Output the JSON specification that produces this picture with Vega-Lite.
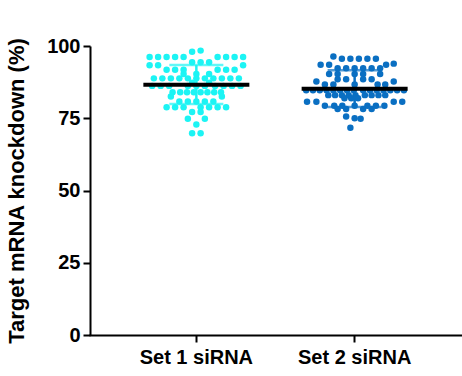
{
  "$schema": "https://vega.github.io/schema/vega-lite/v6.json",
  "width": 371,
  "height": 289,
  "autosize": {"type": "none"},
  "padding": {"left": 90, "top": 46, "right": 1, "bottom": 41},
  "background": "white",
  "config": {
    "view": {"stroke": null},
    "axis": {
      "grid": false,
      "domainColor": "black",
      "domainWidth": 2,
      "tickColor": "black",
      "tickWidth": 2,
      "tickSize": 7,
      "labelFont": "Liberation Sans",
      "labelFontWeight": "bold",
      "labelFontSize": 20,
      "labelColor": "black",
      "titleFont": "Liberation Sans",
      "titleFontWeight": "bold",
      "titleFontSize": 22,
      "titleColor": "black"
    }
  },
  "datasets": {
    "points": [
      {"group": "Set 1 siRNA", "value": 98.4, "slot": 0.5},
      {"group": "Set 1 siRNA", "value": 98.0, "slot": -0.5},
      {"group": "Set 1 siRNA", "value": 96.2, "slot": -5.5},
      {"group": "Set 1 siRNA", "value": 96.2, "slot": -4.5},
      {"group": "Set 1 siRNA", "value": 96.2, "slot": -3.5},
      {"group": "Set 1 siRNA", "value": 96.2, "slot": -2.5},
      {"group": "Set 1 siRNA", "value": 96.2, "slot": -1.5},
      {"group": "Set 1 siRNA", "value": 96.2, "slot": 2.5},
      {"group": "Set 1 siRNA", "value": 96.2, "slot": 3.5},
      {"group": "Set 1 siRNA", "value": 96.2, "slot": 4.5},
      {"group": "Set 1 siRNA", "value": 96.2, "slot": 5.5},
      {"group": "Set 1 siRNA", "value": 94.4, "slot": -0.5},
      {"group": "Set 1 siRNA", "value": 94.4, "slot": 0.5},
      {"group": "Set 1 siRNA", "value": 94.4, "slot": 1.5},
      {"group": "Set 1 siRNA", "value": 93.3, "slot": -5.5},
      {"group": "Set 1 siRNA", "value": 93.3, "slot": -4.5},
      {"group": "Set 1 siRNA", "value": 93.3, "slot": 5.5},
      {"group": "Set 1 siRNA", "value": 91.8, "slot": -3.5},
      {"group": "Set 1 siRNA", "value": 91.8, "slot": -2.5},
      {"group": "Set 1 siRNA", "value": 91.8, "slot": -1.5},
      {"group": "Set 1 siRNA", "value": 91.8, "slot": 2.5},
      {"group": "Set 1 siRNA", "value": 91.8, "slot": 3.5},
      {"group": "Set 1 siRNA", "value": 91.8, "slot": 4.5},
      {"group": "Set 1 siRNA", "value": 90.3, "slot": -1.5},
      {"group": "Set 1 siRNA", "value": 90.3, "slot": 0},
      {"group": "Set 1 siRNA", "value": 90.3, "slot": 1.5},
      {"group": "Set 1 siRNA", "value": 88.8, "slot": -5},
      {"group": "Set 1 siRNA", "value": 88.8, "slot": -4},
      {"group": "Set 1 siRNA", "value": 88.8, "slot": -3},
      {"group": "Set 1 siRNA", "value": 88.8, "slot": -2},
      {"group": "Set 1 siRNA", "value": 88.8, "slot": -1},
      {"group": "Set 1 siRNA", "value": 88.8, "slot": 0},
      {"group": "Set 1 siRNA", "value": 88.8, "slot": 1},
      {"group": "Set 1 siRNA", "value": 88.8, "slot": 2},
      {"group": "Set 1 siRNA", "value": 88.8, "slot": 3},
      {"group": "Set 1 siRNA", "value": 88.8, "slot": 4},
      {"group": "Set 1 siRNA", "value": 88.8, "slot": 5},
      {"group": "Set 1 siRNA", "value": 87.3, "slot": -0.5},
      {"group": "Set 1 siRNA", "value": 87.3, "slot": 1.5},
      {"group": "Set 1 siRNA", "value": 86.2, "slot": -5.2},
      {"group": "Set 1 siRNA", "value": 86.2, "slot": -4.2},
      {"group": "Set 1 siRNA", "value": 86.2, "slot": -3.2},
      {"group": "Set 1 siRNA", "value": 86.2, "slot": -1},
      {"group": "Set 1 siRNA", "value": 86.2, "slot": 0},
      {"group": "Set 1 siRNA", "value": 86.2, "slot": 1},
      {"group": "Set 1 siRNA", "value": 86.2, "slot": 2.2},
      {"group": "Set 1 siRNA", "value": 86.2, "slot": 3.2},
      {"group": "Set 1 siRNA", "value": 86.2, "slot": 4.2},
      {"group": "Set 1 siRNA", "value": 86.2, "slot": 5.2},
      {"group": "Set 1 siRNA", "value": 84.0, "slot": -2.8},
      {"group": "Set 1 siRNA", "value": 84.0, "slot": -1.9},
      {"group": "Set 1 siRNA", "value": 84.0, "slot": -1.1},
      {"group": "Set 1 siRNA", "value": 84.0, "slot": -0.3},
      {"group": "Set 1 siRNA", "value": 84.0, "slot": 0.5},
      {"group": "Set 1 siRNA", "value": 84.0, "slot": 1.3},
      {"group": "Set 1 siRNA", "value": 84.0, "slot": 2.1},
      {"group": "Set 1 siRNA", "value": 84.0, "slot": 2.9},
      {"group": "Set 1 siRNA", "value": 82.5, "slot": -3},
      {"group": "Set 1 siRNA", "value": 82.5, "slot": 3},
      {"group": "Set 1 siRNA", "value": 80.8, "slot": -2},
      {"group": "Set 1 siRNA", "value": 80.8, "slot": -1},
      {"group": "Set 1 siRNA", "value": 80.8, "slot": 0},
      {"group": "Set 1 siRNA", "value": 80.8, "slot": 1},
      {"group": "Set 1 siRNA", "value": 80.8, "slot": 2},
      {"group": "Set 1 siRNA", "value": 78.8, "slot": -3.5},
      {"group": "Set 1 siRNA", "value": 78.8, "slot": -2.5},
      {"group": "Set 1 siRNA", "value": 78.8, "slot": -1.5},
      {"group": "Set 1 siRNA", "value": 78.8, "slot": 0.5},
      {"group": "Set 1 siRNA", "value": 78.8, "slot": 1.5},
      {"group": "Set 1 siRNA", "value": 78.8, "slot": 2.5},
      {"group": "Set 1 siRNA", "value": 78.8, "slot": 3.5},
      {"group": "Set 1 siRNA", "value": 77.2, "slot": -0.5},
      {"group": "Set 1 siRNA", "value": 77.2, "slot": 0.5},
      {"group": "Set 1 siRNA", "value": 74.8, "slot": -1},
      {"group": "Set 1 siRNA", "value": 74.8, "slot": 1},
      {"group": "Set 1 siRNA", "value": 72.8, "slot": 0},
      {"group": "Set 1 siRNA", "value": 69.8, "slot": -0.5},
      {"group": "Set 1 siRNA", "value": 69.8, "slot": 0.5},

      {"group": "Set 2 siRNA", "value": 96.4, "slot": -2.5},
      {"group": "Set 2 siRNA", "value": 95.6, "slot": -1.5},
      {"group": "Set 2 siRNA", "value": 95.6, "slot": -0.5},
      {"group": "Set 2 siRNA", "value": 95.6, "slot": 0.5},
      {"group": "Set 2 siRNA", "value": 95.6, "slot": 1.5},
      {"group": "Set 2 siRNA", "value": 95.6, "slot": 2.5},
      {"group": "Set 2 siRNA", "value": 93.5, "slot": -4},
      {"group": "Set 2 siRNA", "value": 93.5, "slot": -3},
      {"group": "Set 2 siRNA", "value": 93.5, "slot": 3.7},
      {"group": "Set 2 siRNA", "value": 93.9, "slot": 4.6},
      {"group": "Set 2 siRNA", "value": 92.3, "slot": -2},
      {"group": "Set 2 siRNA", "value": 92.3, "slot": -1},
      {"group": "Set 2 siRNA", "value": 92.3, "slot": 0},
      {"group": "Set 2 siRNA", "value": 92.3, "slot": 1},
      {"group": "Set 2 siRNA", "value": 92.3, "slot": 2},
      {"group": "Set 2 siRNA", "value": 92.3, "slot": 3},
      {"group": "Set 2 siRNA", "value": 90.3, "slot": -3},
      {"group": "Set 2 siRNA", "value": 90.3, "slot": -2},
      {"group": "Set 2 siRNA", "value": 90.3, "slot": 0},
      {"group": "Set 2 siRNA", "value": 90.3, "slot": 1},
      {"group": "Set 2 siRNA", "value": 90.3, "slot": 3},
      {"group": "Set 2 siRNA", "value": 88.5, "slot": -2},
      {"group": "Set 2 siRNA", "value": 88.5, "slot": -1},
      {"group": "Set 2 siRNA", "value": 88.5, "slot": 1},
      {"group": "Set 2 siRNA", "value": 88.5, "slot": 2},
      {"group": "Set 2 siRNA", "value": 87.7, "slot": -4.5},
      {"group": "Set 2 siRNA", "value": 87.7, "slot": 4.6},
      {"group": "Set 2 siRNA", "value": 86.7, "slot": -3.5},
      {"group": "Set 2 siRNA", "value": 86.7, "slot": -2.5},
      {"group": "Set 2 siRNA", "value": 86.7, "slot": 0},
      {"group": "Set 2 siRNA", "value": 86.7, "slot": 2.7},
      {"group": "Set 2 siRNA", "value": 86.7, "slot": 3.6},
      {"group": "Set 2 siRNA", "value": 84.7, "slot": -5.7},
      {"group": "Set 2 siRNA", "value": 84.7, "slot": -4.9},
      {"group": "Set 2 siRNA", "value": 84.7, "slot": -4.1},
      {"group": "Set 2 siRNA", "value": 84.7, "slot": -3.3},
      {"group": "Set 2 siRNA", "value": 84.7, "slot": -2.5},
      {"group": "Set 2 siRNA", "value": 84.7, "slot": -1.7},
      {"group": "Set 2 siRNA", "value": 84.7, "slot": -0.9},
      {"group": "Set 2 siRNA", "value": 84.7, "slot": -0.1},
      {"group": "Set 2 siRNA", "value": 84.7, "slot": 1},
      {"group": "Set 2 siRNA", "value": 84.7, "slot": 1.8},
      {"group": "Set 2 siRNA", "value": 84.7, "slot": 2.6},
      {"group": "Set 2 siRNA", "value": 84.7, "slot": 3.4},
      {"group": "Set 2 siRNA", "value": 84.7, "slot": 4.2},
      {"group": "Set 2 siRNA", "value": 84.7, "slot": 5},
      {"group": "Set 2 siRNA", "value": 84.7, "slot": 5.8},
      {"group": "Set 2 siRNA", "value": 83.0, "slot": -3.1},
      {"group": "Set 2 siRNA", "value": 83.0, "slot": -2.3},
      {"group": "Set 2 siRNA", "value": 83.0, "slot": -1.5},
      {"group": "Set 2 siRNA", "value": 83.0, "slot": -0.7},
      {"group": "Set 2 siRNA", "value": 83.0, "slot": 0.1},
      {"group": "Set 2 siRNA", "value": 83.0, "slot": 1.2},
      {"group": "Set 2 siRNA", "value": 83.0, "slot": 2},
      {"group": "Set 2 siRNA", "value": 83.0, "slot": 2.8},
      {"group": "Set 2 siRNA", "value": 83.0, "slot": 3.6},
      {"group": "Set 2 siRNA", "value": 81.9, "slot": -1.2},
      {"group": "Set 2 siRNA", "value": 81.9, "slot": -0.4},
      {"group": "Set 2 siRNA", "value": 81.9, "slot": 0.4},
      {"group": "Set 2 siRNA", "value": 80.7, "slot": -5.6},
      {"group": "Set 2 siRNA", "value": 80.7, "slot": -4.5},
      {"group": "Set 2 siRNA", "value": 80.7, "slot": 4.6},
      {"group": "Set 2 siRNA", "value": 80.7, "slot": 5.6},
      {"group": "Set 2 siRNA", "value": 79.3, "slot": -3.5},
      {"group": "Set 2 siRNA", "value": 79.3, "slot": -2.4},
      {"group": "Set 2 siRNA", "value": 79.3, "slot": -1.45},
      {"group": "Set 2 siRNA", "value": 79.3, "slot": 0},
      {"group": "Set 2 siRNA", "value": 79.3, "slot": 1.5},
      {"group": "Set 2 siRNA", "value": 79.3, "slot": 2.5},
      {"group": "Set 2 siRNA", "value": 79.3, "slot": 3.5},
      {"group": "Set 2 siRNA", "value": 78.2, "slot": -2},
      {"group": "Set 2 siRNA", "value": 78.2, "slot": -1},
      {"group": "Set 2 siRNA", "value": 78.2, "slot": 1},
      {"group": "Set 2 siRNA", "value": 78.2, "slot": 2},
      {"group": "Set 2 siRNA", "value": 75.6, "slot": -1},
      {"group": "Set 2 siRNA", "value": 75.0, "slot": 0},
      {"group": "Set 2 siRNA", "value": 74.8, "slot": 0.7},
      {"group": "Set 2 siRNA", "value": 71.7, "slot": -0.5}
    ],
    "summary": [
      {"group": "Set 1 siRNA", "mean": 86.6, "lo": 79.9, "hi": 93.4},
      {"group": "Set 2 siRNA", "mean": 85.2, "lo": 78.9, "hi": 91.6}
    ]
  },
  "layer": [
    {
      "data": {"name": "points"},
      "mark": {"type": "circle", "size": 42, "opacity": 1},
      "encoding": {
        "x": {"field": "group", "type": "nominal"},
        "xOffset": {"field": "slot", "type": "quantitative", "scale": {"domain": [-9.31, 9.31], "nice": false, "zero": false}},
        "y": {"field": "value", "type": "quantitative"},
        "color": {"field": "group", "type": "nominal", "legend": null}
      }
    },
    {
      "data": {"name": "summary"},
      "mark": {"type": "rule", "strokeWidth": 2.5},
      "encoding": {
        "x": {"field": "group", "type": "nominal"},
        "y": {"field": "lo", "type": "quantitative"},
        "y2": {"field": "hi"},
        "color": {"field": "group", "type": "nominal", "legend": null}
      }
    },
    {
      "data": {"name": "summary"},
      "mark": {"type": "tick", "size": 54, "thickness": 2.5},
      "encoding": {
        "x": {"field": "group", "type": "nominal"},
        "y": {"field": "lo", "type": "quantitative"},
        "color": {"field": "group", "type": "nominal", "legend": null}
      }
    },
    {
      "data": {"name": "summary"},
      "mark": {"type": "tick", "size": 54, "thickness": 2.5},
      "encoding": {
        "x": {"field": "group", "type": "nominal"},
        "y": {"field": "hi", "type": "quantitative"},
        "color": {"field": "group", "type": "nominal", "legend": null}
      }
    },
    {
      "data": {"name": "summary"},
      "mark": {"type": "tick", "size": 106, "thickness": 4, "color": "black", "opacity": 1},
      "encoding": {
        "x": {"field": "group", "type": "nominal"},
        "y": {"field": "mean", "type": "quantitative"}
      }
    }
  ],
  "resolve": {"scale": {"color": "shared"}},
  "encoding": {
    "x": {
      "field": "group",
      "type": "nominal",
      "scale": {"type": "band", "paddingInner": 0, "paddingOuter": 0.172},
      "axis": {"title": null, "labelAngle": 0, "labelPadding": 5, "domainCap": "square"}
    },
    "y": {
      "type": "quantitative",
      "scale": {"domain": [0, 100], "nice": false},
      "axis": {"title": "Target mRNA knockdown (%)", "values": [0, 25, 50, 75, 100], "labelPadding": 3, "titlePadding": 18}
    },
    "color": {
      "scale": {"domain": ["Set 1 siRNA", "Set 2 siRNA"], "range": ["#1CF4F4", "#0A6FC2"]}
    }
  }
}
